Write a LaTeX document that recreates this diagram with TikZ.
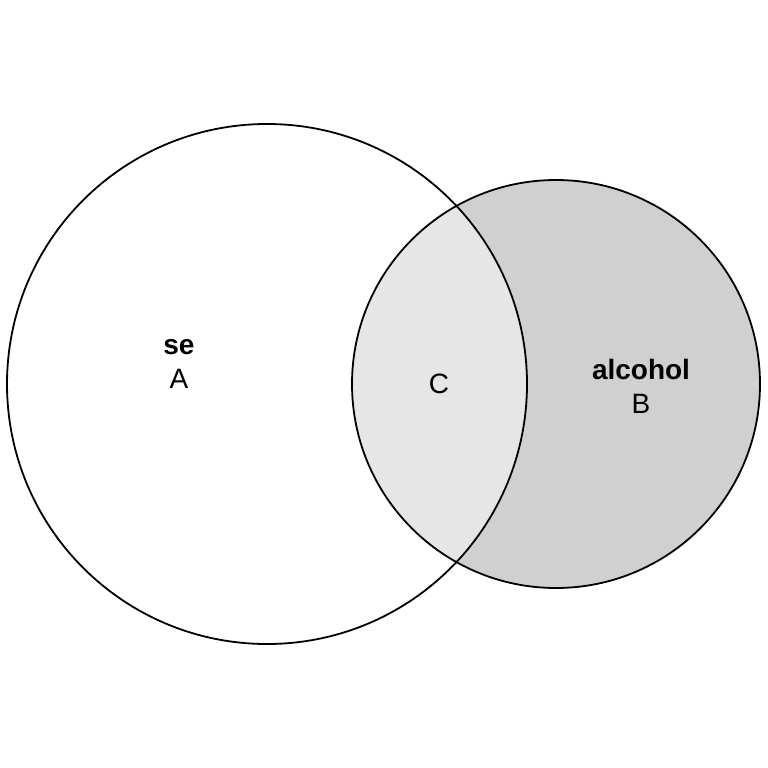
\documentclass[tikz,border=0pt]{standalone}
\usepackage{fontspec}
\setmainfont{Liberation Sans}
\begin{document}
\begin{tikzpicture}[x=1pt,y=-1pt,
  lbl/.style={font=\fontsize{28}{34}\selectfont, align=center},
  circ/.style={draw=black, line width=1.8pt}]
\useasboundingbox (0,0) rectangle (768,768);
\fill[fill={rgb,255:red,208;green,208;blue,208}] (556,384) circle (204);
\begin{scope}
  \clip (267,384) circle (260);
  \fill[fill={rgb,255:red,230;green,230;blue,230}] (556,384) circle (204);
\end{scope}
\draw[circ] (267,384) circle (260);
\draw[circ] (556,384) circle (204);
\node[lbl] (a) at (179,364) {\textbf{se}\\A};
\node[lbl] (b) at (641,386) {\textbf{alcohol}\\B};
\node[lbl] (c) at (439,384) {C};
\end{tikzpicture}
\end{document}
